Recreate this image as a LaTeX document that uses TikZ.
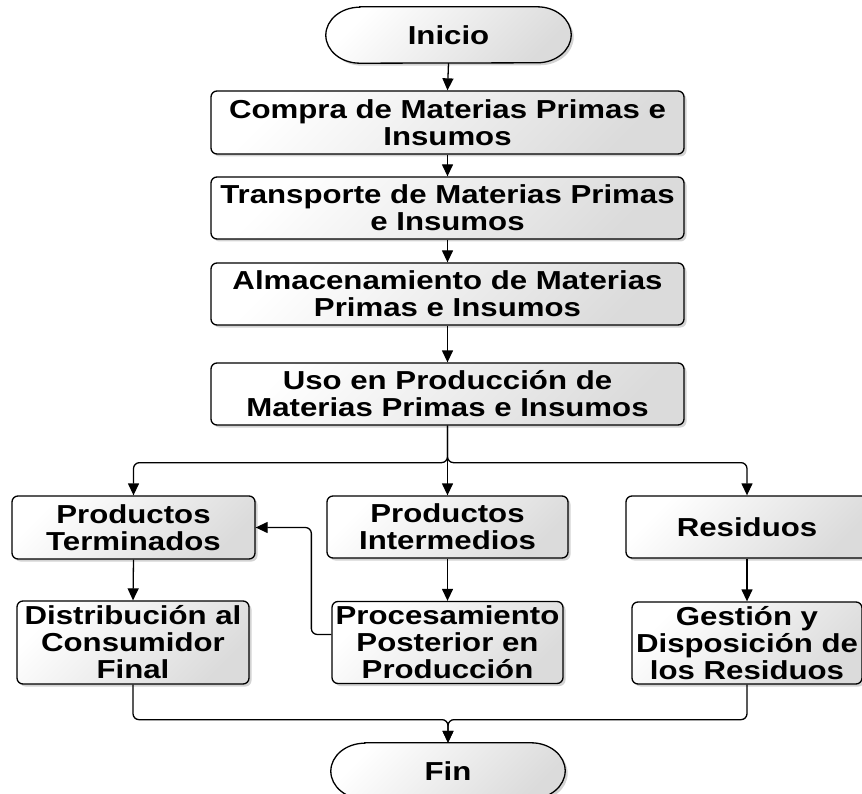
\documentclass[tikz,border=0pt]{standalone}
\usepackage{fontspec}
\newfontfamily\boxfont{Liberation Sans}[FakeStretch=1.2]
\usetikzlibrary{shadows,arrows.meta,backgrounds}

\begin{document}
\begin{tikzpicture}[x=1pt,y=1pt,
  boxfill/.style={top color=white, bottom color=gray!28, shading angle=45,
    drop shadow={shadow xshift=2.5pt, shadow yshift=-2.5pt, opacity=0.35, fill=gray}},
  txt/.style={align=center, inner sep=1pt, text=black,
    font=\boxfont\bfseries\fontsize{26}{27}\selectfont},
  proc/.style={txt, boxfill, draw=black, line width=1.3pt, rounded corners=6pt},
  termtext/.style={txt},
  termshape/.style={boxfill, draw=black, line width=1.3pt},
  conn/.style={draw=black, line width=1.3pt, rounded corners=6pt,
    -{Triangle[length=12pt,width=11pt]}}
]
\useasboundingbox (0,0) rectangle (862,-794);

\node[termtext, minimum width=245pt, minimum height=56pt] (ini) at (448.5,-35) {Inicio};
\node[proc, minimum width=473pt, minimum height=63pt] (compra) at (447.5,-122.5) {Compra de Materias Primas e\\Insumos};
\node[proc, minimum width=473pt, minimum height=62pt] (transp) at (447.5,-208) {Transporte de Materias Primas\\e Insumos};
\node[proc, minimum width=473pt, minimum height=62pt] (almac) at (447.5,-294) {Almacenamiento de Materias\\Primas e Insumos};
\node[proc, minimum width=473pt, minimum height=62pt] (uso) at (447.5,-394) {Uso en Producción de\\Materias Primas e Insumos};

\node[proc, minimum width=243pt, minimum height=63pt] (term) at (133.5,-527.5) {Productos\\Terminados};
\node[proc, minimum width=241pt, minimum height=62pt] (interm) at (447.5,-527) {Productos\\Intermedios};
\node[proc, minimum width=242pt, minimum height=62pt] (resid) at (747,-527) {Residuos};

\node[proc, minimum width=232pt, minimum height=83pt] (distrib) at (133,-642.5) {Distribución al\\Consumidor\\Final};
\node[proc, minimum width=231pt, minimum height=82pt] (proces) at (447.5,-642.5) {Procesamiento\\Posterior en\\Producción};
\node[proc, minimum width=230pt, minimum height=82pt] (gestion) at (747,-643) {Gestión y\\Disposición de\\los Residuos};

\node[termtext, minimum width=234pt, minimum height=56pt] (fin) at (448,-771) {Fin};

\begin{scope}[on background layer]
\path[termshape] ([xshift=34pt]ini.north west) -- ([xshift=-34pt]ini.north east)
  arc[start angle=90, end angle=-90, x radius=34pt, y radius=28pt]
  -- ([xshift=34pt]ini.south west)
  arc[start angle=270, end angle=90, x radius=34pt, y radius=28pt] -- cycle;
\path[termshape] ([xshift=34pt]fin.north west) -- ([xshift=-34pt]fin.north east)
  arc[start angle=90, end angle=-90, x radius=34pt, y radius=28pt]
  -- ([xshift=34pt]fin.south west)
  arc[start angle=270, end angle=90, x radius=34pt, y radius=28pt] -- cycle;
\end{scope}

\draw[conn] (ini.south) -- (compra.north);
\draw[conn] (compra.south) -- (transp.north);
\draw[conn] (transp.south) -- (almac.north);
\draw[conn] (almac.south) -- (uso.north);

\draw[conn] (uso.south) -- ++(0,-37) -| (term.north);
\draw[conn] (uso.south) -- (interm.north);
\draw[conn] (uso.south) -- ++(0,-37) -| (resid.north);

\draw[conn] (term.south) -- (distrib.north);
\draw[conn] (interm.south) -- (proces.north);
\draw[conn] (resid.south) -- (gestion.north);

\draw[conn] ([yshift=8pt]proces.west) -- ++(-20,0) |- (term.east);

\draw[conn] (distrib.south) -- ++(0,-35) -| (fin.north);
\draw[conn] (gestion.south) -- ++(0,-35) -| (fin.north);
\end{tikzpicture}
\end{document}
